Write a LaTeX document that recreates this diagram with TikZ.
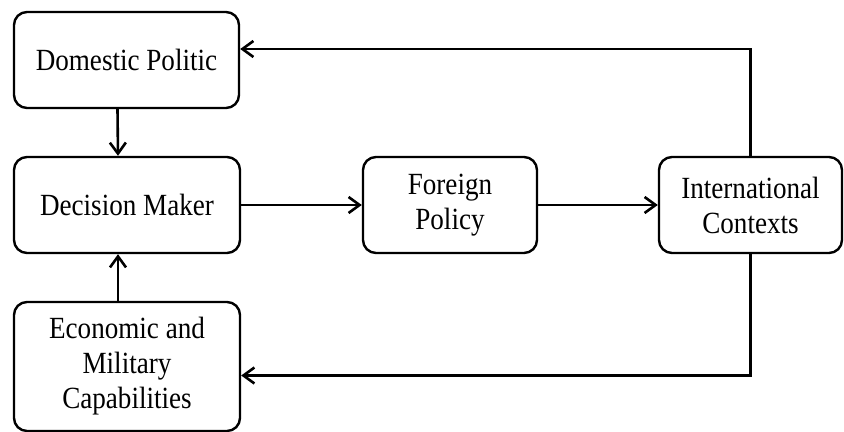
\documentclass[tikz,border=0pt]{standalone}
\usepackage{fontspec}
\setmainfont{Liberation Serif}[FakeStretch=0.88]
\usetikzlibrary{arrows.meta}

\begin{document}
\begin{tikzpicture}[x=0.5pt,y=-0.5pt,
    box/.style={draw,line width=1.2pt,rounded corners=6.5pt,align=center,inner sep=0pt,
        font=\fontsize{15.4pt}{17.5pt}\selectfont},
    flow/.style={line width=1.3pt,-{Straight Barb[length=5.5pt,width=8pt,line width=1.3pt]}}]
        \useasboundingbox (0,0) rectangle (844,432);

        % Kaesten
        \node[box,minimum width=112.5pt,minimum height=48pt] (dom) at (126.5,60) {Domestic Politic};
        \node[box,minimum width=113pt,minimum height=48pt] (dec) at (127,205) {Decision Maker};
        \node[box,minimum width=113pt,minimum height=64.5pt] (eco) at (127,366.5) {Economic and\\Military\\Capabilities};
        \node[box,minimum width=87pt,minimum height=48pt] (fp) at (450,205) {Foreign\\Policy};
        \node[box,minimum width=91.5pt,minimum height=48pt] (ic) at (750.5,205) {International\\Contexts};

        % Pfeile
        \draw[flow] ([xshift=-4.5pt]dom.south) -- ([xshift=-4.5pt]dec.north);
        \draw[flow] ([xshift=-4.5pt]eco.north) -- ([xshift=-4.5pt]dec.south);
        \draw[flow] (dec) -- (fp);
        \draw[flow] (fp) -- (ic);

        % Rueckkopplung
        \draw[flow] (ic.north) |- ([yshift=5.5pt]dom.east);
        \draw[flow] (ic.south) |- ([yshift=-4.5pt]eco.east);
    \end{tikzpicture}
\end{document}
